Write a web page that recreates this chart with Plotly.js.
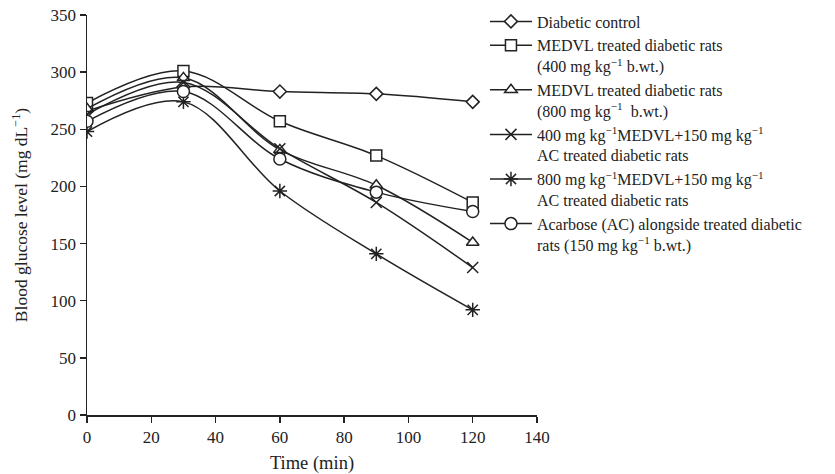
<!DOCTYPE html>
<html>
<head>
<meta charset="utf-8">
<script src="https://cdn.plot.ly/plotly-3.0.1.min.js"></script>
<style>html,body{margin:0;padding:0;background:#fff;}#chart{width:835px;height:474px;}</style>
</head>
<body>
<div id="chart"></div>
<script>
var timeMin = [0, 30, 60, 90, 120];
var diabeticControl = [266, 287, 283, 281, 274];
var medvl400 = [273, 301, 257, 227, 186];
var medvl800 = [268, 295, 232, 201, 151];
var medvl400ac = [263, 291, 233, 186, 129];
var medvl800ac = [248, 274, 196, 141, 92];
var acarbose = [257, 283, 224, 195, 178];

var seriesNames = [
  'Diabetic control',
  'MEDVL treated diabetic rats<br>(400 mg kg<sup>\u22121</sup> b.wt.)',
  'MEDVL treated diabetic rats<br>(800 mg kg<sup>\u22121</sup>  b.wt.)',
  '400 mg kg<sup>\u22121</sup>MEDVL+150 mg kg<sup>\u22121</sup><br>AC treated diabetic rats',
  '800 mg kg<sup>\u22121</sup>MEDVL+150 mg kg<sup>\u22121</sup><br>AC treated diabetic rats',
  'Acarbose (AC) alongside treated diabetic<br>rats (150 mg kg<sup>\u22121</sup> b.wt.)'
];
var seriesValues = [diabeticControl, medvl400, medvl800, medvl400ac, medvl800ac, acarbose];
var symbols = ['diamond', 'square', 'triangle-up', 'x-thin', 'asterisk', 'circle'];
var sizes = [10, 11, 11, 11, 12, 12];

var traces = seriesValues.map(function (vals, i) {
  var thin = (symbols[i] === 'x-thin' || symbols[i] === 'asterisk');
  return {
    x: timeMin,
    y: vals,
    name: seriesNames[i],
    type: 'scatter',
    mode: 'lines+markers',
    line: {color: '#222', width: 1.5, shape: 'spline', smoothing: 1},
    marker: {
      symbol: symbols[i],
      size: sizes[i],
      color: thin ? '#222' : '#fff',
      line: {color: '#222', width: 1.5}
    }
  };
});

var fam = 'Liberation Serif, Times New Roman, serif';
var font = {family: fam, size: 17, color: '#222'};
var xTitleFont = {family: fam, size: 18.5, color: '#222'};
var yTitleFont = {family: fam, size: 17.5, color: '#222'};
var legFont = {family: fam, size: 16, color: '#222'};

var layout = {
  width: 835,
  height: 474,
  margin: {l: 87, r: 298, t: 15, b: 59, pad: 0, autoexpand: false},
  paper_bgcolor: '#fff',
  plot_bgcolor: '#fff',
  font: font,
  showlegend: true,
  legend: {
    xref: 'container', yref: 'container',
    x: 0.5808, xanchor: 'left', y: 0.9905, yanchor: 'top',
    font: legFont,
    valign: 'top',
    bgcolor: 'rgba(0,0,0,0)',
    tracegroupgap: 0,
    itemwidth: 42,
    maxheight: 460
  },
  xaxis: {
    range: [0, 140],
    dtick: 20,
    tick0: 0,
    showgrid: false,
    zeroline: false,
    showline: true,
    linecolor: '#222',
    linewidth: 1.5,
    ticks: 'outside',
    ticklen: 6,
    tickwidth: 1.5,
    tickcolor: '#222',
    tickfont: font,
    automargin: false,
    title: {text: 'Time (min)', font: xTitleFont, standoff: 10}
  },
  yaxis: {
    range: [0, 350],
    dtick: 50,
    tick0: 0,
    showgrid: false,
    zeroline: false,
    showline: true,
    linecolor: '#222',
    linewidth: 1.5,
    ticks: 'outside',
    ticklen: 6,
    tickwidth: 1.5,
    tickcolor: '#222',
    tickfont: font,
    automargin: false,
    title: {text: 'Blood glucose level (mg dL<sup>\u22121</sup>)', font: yTitleFont, standoff: 18}
  }
};

Plotly.newPlot('chart', traces, layout, {displayModeBar: false, staticPlot: true});
</script>
</body>
</html>
